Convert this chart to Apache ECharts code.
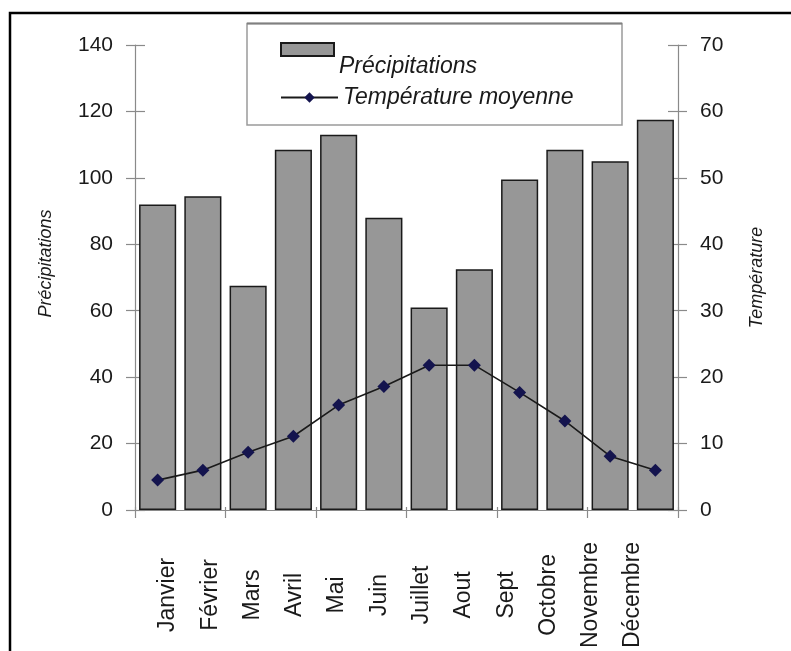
<!DOCTYPE html>
<html>
<head>
<meta charset="utf-8">
<script src="https://cdn.jsdelivr.net/npm/echarts@6/dist/echarts.min.js"></script>
<style>html,body{margin:0;padding:0;background:#fff}#c{width:791px;height:651px}</style>
</head>
<body>
<div id="c"></div>
<script>
const months = ['Janvier','Février','Mars','Avril','Mai','Juin','Juillet','Aout','Sept','Octobre','Novembre','Décembre'];
const precipitations = [92, 94.5, 67.5, 108.5, 113, 88, 61, 72.5, 99.5, 108.5, 105, 117.5];
const temperature = [4.5, 6, 8.7, 11.1, 15.8, 18.6, 21.8, 21.8, 17.7, 13.4, 8.1, 6];
const leftTicks = {min: 0, max: 140, interval: 20};
const rightTicks = {min: 0, max: 70, interval: 10};
const seriesNames = ['Précipitations', 'Température moyenne'];
const axisNames = ['Précipitations', 'Température'];

const FONT = "'Liberation Sans', Arial, sans-serif";
const TXT = '#1a1a1a';
const AX = '#8a8a8a';

const chart = echarts.init(document.getElementById('c'), null, {renderer: 'canvas'});

chart.setOption({
  animation: false,
  backgroundColor: '#fff',
  textStyle: {fontFamily: FONT},
  graphic: [
    {type: 'rect', shape: {x: 10, y: 13, width: 820, height: 700}, style: {fill: 'none', stroke: '#000', lineWidth: 2.5}, silent: true},
    {type: 'rect', shape: {x: 247, y: 23.5, width: 375, height: 101.5}, style: {fill: '#fff', stroke: '#9a9a9a', lineWidth: 1.5}, silent: true, z: -1},
    {type: 'line', shape: {x1: 247, y1: 23.5, x2: 622, y2: 23.5}, style: {stroke: '#808080', lineWidth: 2}, silent: true, z: -1}
  ],
  legend: [
    {
      data: [{name: seriesNames[0], icon: 'rect'}],
      formatter: function (n) { return '\n' + n; },
      left: 280, top: 15.5, padding: 0,
      itemWidth: 53, itemHeight: 13, itemGap: 0,
      textStyle: {fontFamily: FONT, fontSize: 23, lineHeight: 34, fontStyle: 'italic', color: TXT}
    },
    {
      data: [seriesNames[1]],
      left: 280, top: 86, padding: 0,
      itemWidth: 57, itemHeight: 13,
      textStyle: {fontFamily: FONT, fontSize: 23, fontStyle: 'italic', color: TXT}
    }
  ],
  grid: [
    {left: 135, right: 113, top: 45, bottom: 141},
    {left: 146.9, right: 136.9, top: 45, bottom: 141}
  ],
  xAxis: [
    {
      type: 'category', data: months, gridIndex: 0, position: 'bottom',
      axisLine: {show: true, lineStyle: {color: AX, width: 1.2}},
      axisTick: {show: true, inside: false, length: 8, lineStyle: {color: AX, width: 1.2}},
      axisLabel: {show: false}
    },
    {
      type: 'category', data: months, gridIndex: 0, position: 'bottom',
      axisLine: {show: false},
      axisTick: {show: true, inside: true, length: 3, lineStyle: {color: AX, width: 1.2}},
      axisLabel: {show: false}
    },
    {
      type: 'category', data: months, gridIndex: 1, position: 'bottom',
      axisLine: {show: false}, axisTick: {show: false},
      axisLabel: {show: true, interval: 0, rotate: 90, margin: 94, align: 'center', verticalAlign: 'middle',
        fontFamily: FONT, fontSize: 23, color: TXT}
    }
  ],
  yAxis: [
    {
      type: 'value', gridIndex: 0, position: 'left',
      min: leftTicks.min, max: leftTicks.max, interval: leftTicks.interval,
      name: axisNames[0], nameLocation: 'middle', nameRotate: 90, nameGap: 80,
      nameTextStyle: {fontFamily: FONT, fontSize: 18, fontStyle: 'italic', color: TXT, padding: [0, 0, 0, 28]},
      axisLine: {show: true, lineStyle: {color: AX, width: 1.2}},
      axisTick: {show: true, inside: false, length: 9, lineStyle: {color: AX, width: 1.2}},
      axisLabel: {margin: 22, fontFamily: FONT, fontSize: 21, color: TXT},
      splitLine: {show: false}
    },
    {
      type: 'value', gridIndex: 0, position: 'right',
      min: rightTicks.min, max: rightTicks.max, interval: rightTicks.interval,
      name: axisNames[1], nameLocation: 'middle', nameRotate: 90, nameGap: 70,
      nameTextStyle: {fontFamily: FONT, fontSize: 18, fontStyle: 'italic', color: TXT},
      axisLine: {show: true, lineStyle: {color: AX, width: 1.2}},
      axisTick: {show: true, inside: false, length: 9, lineStyle: {color: AX, width: 1.2}},
      axisLabel: {margin: 22, fontFamily: FONT, fontSize: 21, color: TXT},
      splitLine: {show: false}
    },
    {
      type: 'value', gridIndex: 0, position: 'left',
      min: leftTicks.min, max: leftTicks.max, interval: leftTicks.interval,
      axisLine: {show: false},
      axisTick: {show: true, inside: true, length: 10, lineStyle: {color: AX, width: 1.2}},
      axisLabel: {show: false}, splitLine: {show: false}
    },
    {
      type: 'value', gridIndex: 0, position: 'right',
      min: rightTicks.min, max: rightTicks.max, interval: rightTicks.interval,
      axisLine: {show: false},
      axisTick: {show: true, inside: true, length: 10, lineStyle: {color: AX, width: 1.2}},
      axisLabel: {show: false}, splitLine: {show: false}
    },
    {
      type: 'value', gridIndex: 1, show: false, min: 0, max: 1
    }
  ],
  series: [
    {
      name: seriesNames[0], type: 'bar', xAxisIndex: 0, yAxisIndex: 0,
      data: precipitations, barCategoryGap: '18%',
      itemStyle: {color: '#979797', borderColor: '#1a1a1a', borderWidth: 1.5},
      z: 2
    },
    {
      name: seriesNames[1], type: 'line', xAxisIndex: 0, yAxisIndex: 1,
      data: temperature,
      symbol: 'diamond', symbolSize: 13,
      itemStyle: {color: '#14144e'},
      lineStyle: {color: '#1a1a1a', width: 1.6},
      z: 5
    }
  ]
});
</script>
</body>
</html>
